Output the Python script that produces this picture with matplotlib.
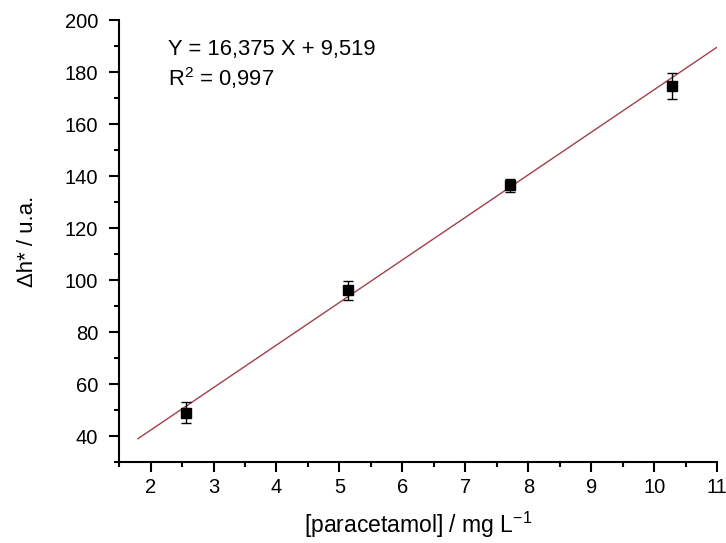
import numpy as np
import matplotlib.pyplot as plt
from matplotlib.ticker import MultipleLocator

plt.rcParams['font.family'] = ['Liberation Sans', 'DejaVu Sans']
plt.rcParams['mathtext.fontset'] = 'custom'
plt.rcParams['mathtext.rm'] = 'Liberation Sans'

# data
conc = [2.57, 5.14, 7.71, 10.28]
dh = [49.0, 96.0, 136.5, 174.5]
err = [4.0, 3.8, 2.5, 5.0]
slope = 16.375
intercept = 9.519
fit_range = [1.8, 11.0]

fig = plt.figure(figsize=(7.26, 5.43), dpi=100)
ax = fig.add_axes([0.164, 0.149, 0.824, 0.814])

xf = np.array(fit_range)
ax.plot(xf, slope * xf + intercept, color='#a0404a', lw=1.0, zorder=2)
ax.errorbar(conc, dh, yerr=err, fmt='s', color='black', ms=6.5,
            ecolor='black', elinewidth=1.0, capsize=3.3, capthick=1.0, zorder=3)

ax.set_xlim(1.5, 11)
ax.set_ylim(30, 200)
ax.xaxis.set_major_locator(MultipleLocator(1))
ax.xaxis.set_minor_locator(MultipleLocator(0.5))
ax.yaxis.set_major_locator(MultipleLocator(20))
ax.yaxis.set_minor_locator(MultipleLocator(10))
ax.spines['top'].set_visible(False)
ax.spines['right'].set_visible(False)
ax.spines['left'].set_linewidth(1.5)
ax.spines['bottom'].set_linewidth(1.5)
ax.tick_params(which='major', direction='out', length=7, width=1.5, labelsize=14.5)
ax.tick_params(which='minor', direction='out', length=3.5, width=1.5)
ax.tick_params(axis='x', which='major', pad=4.5)
ax.tick_params(axis='y', which='major', pad=8)

ax.set_xlabel('[paracetamol] / mg L$^{-1}$', fontsize=16.5, labelpad=9)
ax.set_ylabel('Δh* / u.a.', fontsize=16, labelpad=19)

ax.text(0.082, 0.922, 'Y = 16,375 X + 9,519', transform=ax.transAxes, fontsize=15.8)
ax.text(0.082, 0.850, 'R$^2$ = 0,997', transform=ax.transAxes, fontsize=15.8)

fig.savefig('out.png', dpi=100)
